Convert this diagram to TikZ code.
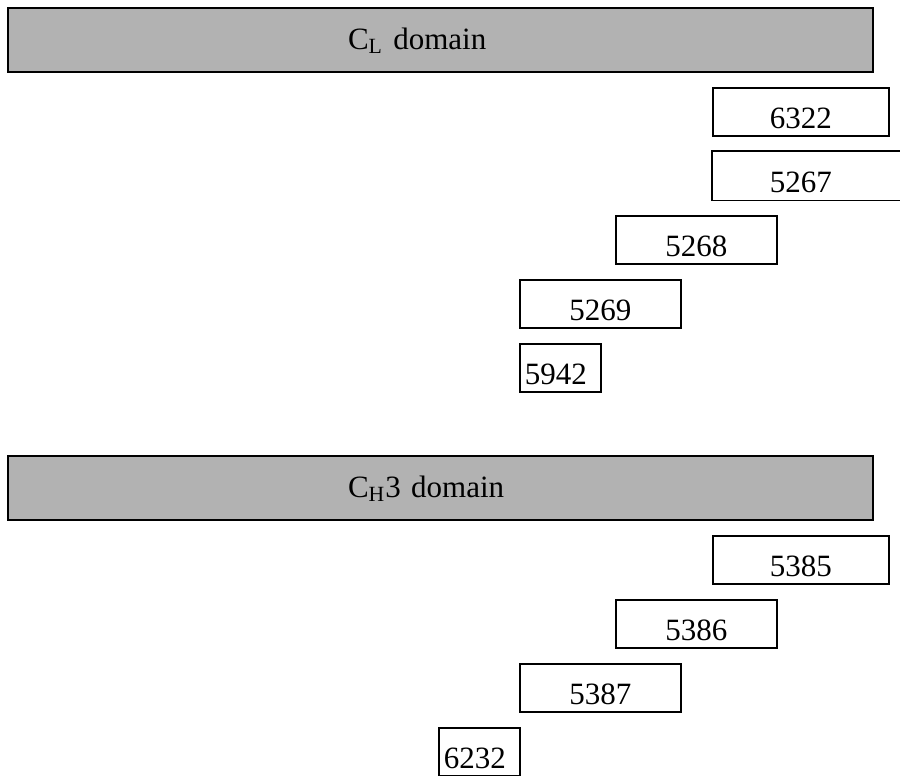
\documentclass[tikz,border=0pt]{standalone}
\usepackage{fontspec}
\setmainfont{Liberation Serif}
\begin{document}
\begin{tikzpicture}[x=0.5pt,y=-0.5pt,
    every node/.style={font=\fontsize{15.5pt}{18pt}\selectfont},
    domainbar/.style={draw,line width=1pt,fill=black!30,anchor=north west,
      minimum width=432.5pt,minimum height=32pt,inner xsep=170pt,
      text width=92.5pt,align=left,text height=9pt,text depth=0pt},
    numbox/.style={draw,line width=0.75pt,anchor=north west,
      minimum height=24pt,inner ysep=0pt,text height=17pt,text depth=0pt},
    widebox/.style={numbox,minimum width=88pt},
    midbox/.style={numbox,minimum width=80.5pt},
    tightbox/.style={numbox,inner xsep=2.5pt,text width=35.5pt,align=left}]
  \useasboundingbox (0,0) rectangle (900,776);
  \node[domainbar] (cl) at (7,7) {C\textsubscript{L} domain}; % first bar
  \node[widebox] (b6322) at (712,87) {6322};
  \node[widebox,draw=none] (b5267) at (712,151) {5267}; % runs off the page
  \draw[line width=0.75pt] ([xshift=20pt]b5267.north east) -| (b5267.south west)
    -- ([xshift=20pt]b5267.south east);
  \node[midbox] (b5268) at (615,215) {5268};
  \node[midbox] (b5269) at (519,279) {5269};
  \node[tightbox] (b5942) at (519,343) {5942};
  \node[domainbar] (ch) at (7,455) {C\textsubscript{H}3 domain}; % second bar
  \node[widebox] (b5385) at (712,535) {5385};
  \node[midbox] (b5386) at (615,599) {5386};
  \node[midbox] (b5387) at (519,663) {5387};
  \node[tightbox] (b6232) at (438,727) {6232};
\end{tikzpicture}
\end{document}
